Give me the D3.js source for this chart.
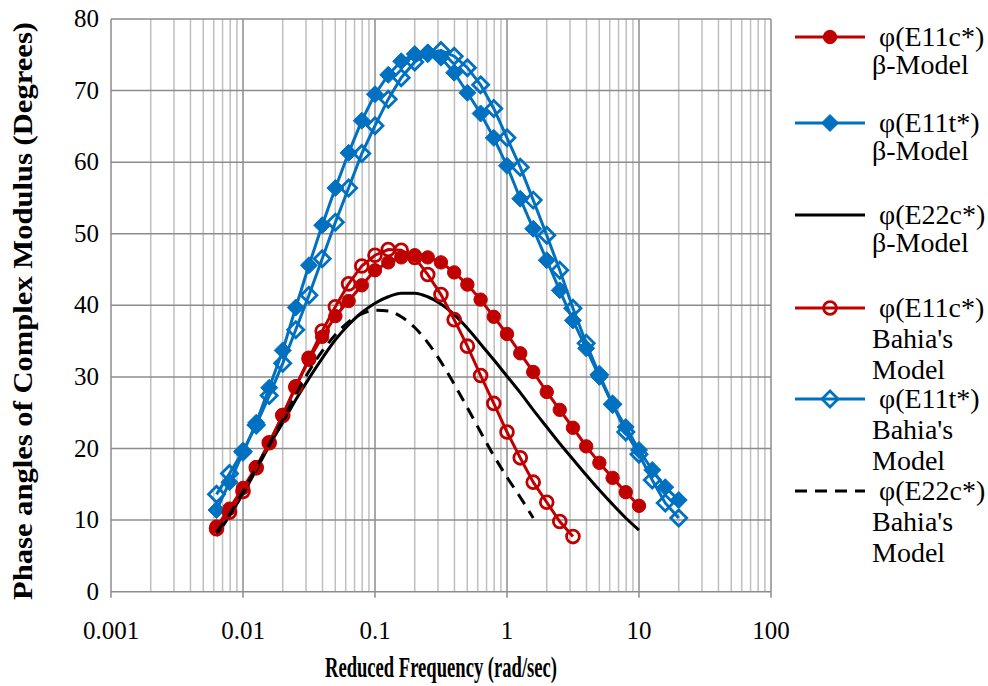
<!DOCTYPE html>
<html>
<head>
<meta charset="utf-8">
<script src="https://cdn.jsdelivr.net/npm/d3@7"></script>
<style>
  body { margin: 0; background: #fff; }
  svg { display: block; }
  text { font-family: "Liberation Serif", "Times New Roman", serif; fill: #000; }
</style>
</head>
<body>
<svg width="988" height="686"></svg>
<script>
// reduced frequency grid (rad/sec), 0.1 decade apart
var freq = [0.0063, 0.0079, 0.01, 0.0126, 0.0158, 0.02, 0.0251, 0.0316, 0.0398, 0.0501,
            0.0631, 0.0794, 0.1, 0.126, 0.158, 0.2, 0.251, 0.316, 0.398, 0.501,
            0.631, 0.794, 1, 1.26, 1.58, 2, 2.51, 3.16, 3.98, 5.01,
            6.31, 7.94, 10, 12.6, 15.8, 20];

// phase angles (degrees), starting at freq[0]
var e11cBeta = [9.1, 11.6, 14.5, 17.4, 20.8, 24.7, 28.7, 32.4, 35.6, 38.5, 40.6, 42.8, 44.9, 46.0, 46.7, 47.0, 46.7,
                46.0, 44.6, 42.9, 40.8, 38.4, 36.0, 33.3, 30.7, 27.9, 25.4, 22.9, 20.3, 18.0, 15.9, 13.9, 12.0];
var e11tBeta = [11.4, 15.3, 19.4, 23.6, 28.5, 33.7, 39.7, 45.6, 51.2, 56.4, 61.3, 65.8, 69.5, 72.2, 74.1, 75.1, 75.3, 74.6,
                72.5, 69.7, 66.8, 63.4, 59.5, 54.9, 50.7, 46.3, 42.1, 37.9, 34.0, 30.0, 26.1, 23.0, 19.8, 17.0, 14.6, 12.8];
var e22cBeta = [7.8, 10.6, 13.7, 17.0, 20.4, 23.6, 26.8, 29.8, 32.6, 35.2, 37.3, 39.0, 40.3, 41.2, 41.7, 41.7, 41.2,
                40.2, 38.7, 36.8, 34.6, 32.4, 30.1, 27.8, 25.4, 23.0, 20.7, 18.5, 16.3, 14.2, 12.2, 10.3, 8.6];
var e11cBahia = [8.8, 11.1, 14.0, 17.3, 20.8, 24.6, 28.6, 32.6, 36.4, 39.8, 43.0, 45.5, 47.0, 47.8, 47.7, 46.7, 44.3,
                 41.5, 38.0, 34.3, 30.2, 26.3, 22.3, 18.7, 15.3, 12.5, 9.8, 7.7];
var e11tBahia = [13.6, 16.5, 19.6, 23.3, 27.4, 31.9, 36.6, 41.4, 46.5, 51.6, 56.4, 61.2, 65.1, 68.8, 71.8, 74.0, 75.2, 75.6,
                 74.8, 73.2, 70.8, 67.5, 63.4, 59.3, 54.7, 49.8, 44.9, 39.6, 34.7, 30.3, 26.2, 22.3, 19.2, 15.6, 12.4, 10.3];
var e22cBahia = [8.3, 10.8, 14.0, 17.3, 20.6, 24.0, 27.5, 30.8, 33.6, 35.9, 37.7, 38.8, 39.3, 39.2, 38.4, 36.9, 34.8,
                 32.1, 29.0, 25.7, 22.3, 19.0, 16.0, 13.2, 10.3];

var xTicks = [0.001, 0.01, 0.1, 1, 10, 100];
var yTicks = [0, 10, 20, 30, 40, 50, 60, 70, 80];

var red = "#c00000", blue = "#0070c0";

var series = [
  { name: "φ(E11c*)", sub: ["β-Model"], values: e11cBeta, color: red, marker: "circle", filled: true },
  { name: "φ(E11t*)", sub: ["β-Model"], values: e11tBeta, color: blue, marker: "diamond", filled: true },
  { name: "φ(E22c*)", sub: ["β-Model"], values: e22cBeta, color: "#000", marker: null },
  { name: "φ(E11c*)", sub: ["Bahia's", "Model"], values: e11cBahia, color: red, marker: "circle", filled: false },
  { name: "φ(E11t*)", sub: ["Bahia's", "Model"], values: e11tBahia, color: blue, marker: "diamond", filled: false },
  { name: "φ(E22c*)", sub: ["Bahia's", "Model"], values: e22cBahia, color: "#000", marker: null, dash: "12,8" }
];

var svg = d3.select("svg");
var plotL = 111, plotR = 771, plotT = 19, plotB = 591.7;

var x = d3.scaleLog().domain([0.001, 100]).range([plotL, plotR]);
var y = d3.scaleLinear().domain([0, 80]).range([plotB, plotT]);

// grid
var grid = svg.append("g");
var minor = [];
for (var d = 0.001; d < 99; d *= 10) {
  for (var k = 2; k <= 9; k++) minor.push(d * k);
}
grid.selectAll("line.minor").data(minor).enter().append("line")
    .attr("x1", function(d) { return x(d); }).attr("x2", function(d) { return x(d); })
    .attr("y1", plotT).attr("y2", plotB)
    .attr("stroke", "#bfbfbf").attr("stroke-width", 1.5);
grid.selectAll("line.hy").data(yTicks).enter().append("line")
    .attr("x1", plotL).attr("x2", plotR)
    .attr("y1", function(d) { return y(d); }).attr("y2", function(d) { return y(d); })
    .attr("stroke", "#8c8c8c").attr("stroke-width", 1.5);
grid.selectAll("line.vx").data(xTicks).enter().append("line")
    .attr("x1", function(d) { return x(d); }).attr("x2", function(d) { return x(d); })
    .attr("y1", plotT).attr("y2", plotB + 6)
    .attr("stroke", "#8c8c8c").attr("stroke-width", 1.5);

// tick labels
svg.append("g").selectAll("text").data(xTicks).enter().append("text")
    .attr("x", function(d) { return x(d); })
    .attr("y", 639)
    .attr("text-anchor", "middle")
    .style("font-size", "25px")
    .text(function(d) { return d3.format("~g")(d); });

svg.append("g").selectAll("text").data(yTicks).enter().append("text")
    .attr("x", 99)
    .attr("y", function(d) { return y(d) + 8; })
    .attr("text-anchor", "end")
    .style("font-size", "25px")
    .text(function(d) { return d; });

// axis titles
svg.append("text")
    .attr("x", 441).attr("y", 677)
    .attr("text-anchor", "middle")
    .attr("textLength", 232).attr("lengthAdjust", "spacingAndGlyphs")
    .style("font-size", "30px").style("font-weight", "bold")
    .text("Reduced Frequency (rad/sec)");

svg.append("text")
    .attr("transform", "translate(32,311) rotate(-90)")
    .attr("text-anchor", "middle")
    .attr("textLength", 578).attr("lengthAdjust", "spacingAndGlyphs")
    .style("font-size", "27px").style("font-weight", "bold")
    .text("Phase angles of Complex Modulus (Degrees)");

// series
var line = d3.line()
    .x(function(d, i) { return x(freq[i]); })
    .y(function(d) { return y(d); });

var diamond = function(s) { return "M0," + (-s) + "L" + s + ",0L0," + s + "L" + (-s) + ",0Z"; };

function drawMarker(g, s, px, py) {
  if (s.marker == "circle") {
    g.append("circle")
        .attr("cx", px).attr("cy", py).attr("r", s.filled ? 6.7 : 6.4)
        .attr("fill", s.filled ? s.color : "none")
        .attr("stroke", s.color).attr("stroke-width", s.filled ? 1 : 2.8);
  } else if (s.marker == "diamond") {
    g.append("path")
        .attr("d", diamond(s.filled ? 8.5 : 8))
        .attr("transform", "translate(" + px + "," + py + ")")
        .attr("fill", s.filled ? s.color : "none")
        .attr("stroke", s.color).attr("stroke-width", s.filled ? 1 : 2.8);
  }
}

series.forEach(function(s) {
  var g = svg.append("g");
  g.append("path")
      .attr("d", line.curve(s.marker ? d3.curveLinear : d3.curveMonotoneX)(s.values))
      .attr("fill", "none")
      .attr("stroke", s.color)
      .attr("stroke-width", 3)
      .attr("stroke-dasharray", s.dash || null);
  if (s.marker) {
    s.values.forEach(function(v, i) { drawMarker(g, s, x(freq[i]), y(v)); });
  }
});

// legend
var legendY = [37, 123, 215, 308, 399, 491];
var legend = svg.append("g");
series.forEach(function(s, i) {
  var ly = legendY[i];
  var g = legend.append("g");
  g.append("line")
      .attr("x1", 795).attr("x2", 865).attr("y1", ly).attr("y2", ly)
      .attr("stroke", s.color).attr("stroke-width", 3)
      .attr("stroke-dasharray", s.dash || null);
  if (s.marker) drawMarker(g, s, 830, ly);
  g.append("text")
      .attr("x", 879).attr("y", ly + 9)
      .style("font-size", "28px")
      .text(s.name);
  var step = s.sub.length > 1 ? 31 : 28;
  s.sub.forEach(function(t, j) {
    g.append("text")
        .attr("x", 872).attr("y", ly + 9 + step * (j + 1))
        .style("font-size", "28px")
        .text(t);
  });
});
</script>
</body>
</html>
